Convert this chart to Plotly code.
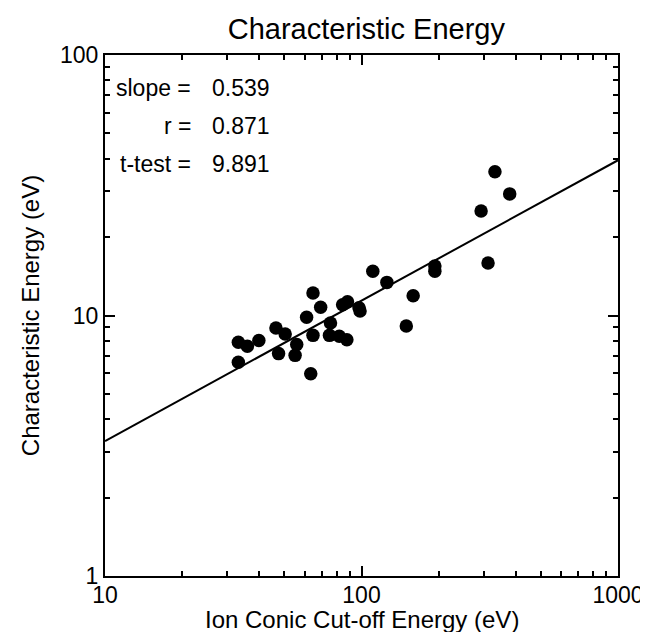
import math
import plotly.graph_objects as go

# Ion conic cut-off energy (eV) vs characteristic energy (eV)
cutoff_energy = [33.1, 35.9, 39.8, 33.1, 46.4, 50.4, 47.5, 55.9, 55.1, 61.1,
                 64.7, 63.4, 64.7, 69.3, 84.4, 88.2, 97.8, 98.7, 75.7, 75.0,
                 81.9, 87.7, 125.6, 110.7, 159.0, 149.5, 193.2, 193.2, 311.4,
                 292.6, 331.3, 378.2]
char_energy = [7.89, 7.62, 8.01, 6.61, 8.95, 8.49, 7.14, 7.74, 7.03, 9.84,
               8.39, 5.98, 12.2, 10.75, 11.0, 11.3, 10.7, 10.4, 9.36, 8.39,
               8.32, 8.07, 13.4, 14.8, 11.9, 9.11, 15.5, 14.8, 15.9,
               25.2, 35.6, 29.3]

# fit in log-log space: log10(y) = intercept + slope * log10(x)
fit_slope = 0.539
fit_intercept = -0.021
fit_x = [10, 1000]

stat_labels = ["slope =", "r =", "t-test ="]
stat_values = ["0.539", "0.871", "9.891"]

fit_y = [10 ** (fit_intercept + fit_slope * math.log10(v)) for v in fit_x]

fig = go.Figure()

fig.add_trace(go.Scatter(x=fit_x, y=fit_y, mode='lines',
                         line=dict(color='black', width=2), hoverinfo='skip'))

fig.add_trace(go.Scatter(x=cutoff_energy, y=char_energy, mode='markers',
                         marker=dict(size=13.5, color='black')))

# statistics text in the upper-left corner
row_y = [0.9367, 0.8637, 0.7908]
for lab, val, yy in zip(stat_labels, stat_values, row_y):
    fig.add_annotation(x=0.172, y=yy, xref='paper', yref='paper', text=lab,
                       showarrow=False, xanchor='right', yanchor='middle',
                       font=dict(size=23, color='black'))
    fig.add_annotation(x=0.205, y=yy, xref='paper', yref='paper', text=val,
                       showarrow=False, xanchor='left', yanchor='middle',
                       font=dict(size=23, color='black'))

# x-axis title placed below the tick labels
fig.add_annotation(x=0.5, y=-0.083, xref='paper', yref='paper',
                   text='Ion Conic Cut-off Energy (eV)', showarrow=False,
                   xanchor='center', yanchor='middle',
                   font=dict(size=24, color='black'))

axis_common = dict(
    type='log',
    showgrid=False, zeroline=False,
    showline=True, linecolor='black', linewidth=2,
    mirror='allticks',
    ticks='inside', ticklen=10, tickwidth=1.5, tickcolor='black',
    tickfont=dict(size=23, color='black'),
)

fig.update_xaxes(
    range=[1, 3],
    tickvals=[10, 100, 1000], ticktext=['10', '100', '1000'],
    ticklabelstandoff=-3,
    minor=dict(ticks='inside', ticklen=5, tickwidth=1.5, tickcolor='black',
               tickvals=[20, 30, 40, 50, 60, 70, 80, 90,
                         200, 300, 400, 500, 600, 700, 800, 900]),
    **axis_common)

fig.update_yaxes(
    range=[0, 2],
    tickvals=[1, 10, 100], ticktext=['1', '10', '100'],
    minor=dict(ticks='inside', ticklen=5, tickwidth=1.5, tickcolor='black',
               tickvals=[2, 3, 4, 5, 6, 7, 8, 9,
                         20, 30, 40, 50, 60, 70, 80, 90]),
    title=dict(text='Characteristic Energy (eV)', font=dict(size=24, color='black'),
               standoff=14),
    **axis_common)

fig.update_layout(
    width=648, height=632,
    margin=dict(l=97, r=30, t=47, b=64),
    title=dict(text='Characteristic Energy', x=0.553, xanchor='center', y=0.967,
               yanchor='middle', font=dict(size=29, color='black')),
    font=dict(family='Liberation Sans, Arial, sans-serif', color='black'),
    showlegend=False,
    plot_bgcolor='white', paper_bgcolor='white',
)

fig.write_html("out.html")
